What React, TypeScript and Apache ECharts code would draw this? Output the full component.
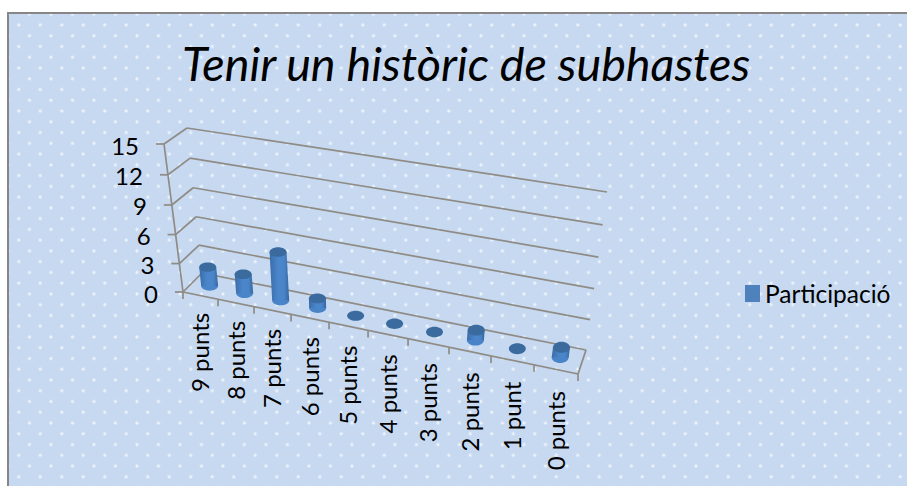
import React, { useEffect, useRef } from "react";
import * as echarts from "echarts";

const titleText = "Tenir un històric de subhastes";
const seriesName = "Participació";
const categories = ["9 punts", "8 punts", "7 punts", "6 punts", "5 punts", "4 punts", "3 punts", "2 punts", "1 punt", "0 punts"];
const values = [2, 2, 5, 1, 0, 0, 0, 1, 0, 1];
const yTicks = [0, 3, 6, 9, 12, 15];

const W = 907;
const H = 486;
const FONT = "Lato, Carlito, Calibri, sans-serif";
const LINE = "#8f8b85";

type P = [number, number];
const mix = (a: P, b: P, t: number): P => [a[0] + (b[0] - a[0]) * t, a[1] + (b[1] - a[1]) * t];
// corners of the 3D box on screen: front / back, left / right, floor / top
const FL0: P = [183, 292], FR0: P = [578, 374], BL0: P = [202, 273], BR0: P = [586, 350];
const FL1: P = [164, 144], FR1: P = [602, 204], BL1: P = [187, 128], BR1: P = [607, 192];

function project(u: number, depth: number, v: number): P {
  const up = u * (0.874 + 0.126 * u);
  const vp = v * (0.95 + 0.05 * v);
  const floor = mix(mix(FL0, FR0, up), mix(BL0, BR0, up), depth);
  const top = mix(mix(FL1, FR1, up), mix(BL1, BR1, up), depth);
  return mix(floor, top, vp);
}
const flat = (pt: number[]) => ({ u: pt[0] / W, v: (H - pt[1]) / H });
const seg = (a: P, b: P) => ({
  type: "line",
  silent: true,
  shape: { x1: a[0], y1: a[1], x2: b[0], y2: b[1] },
  style: { stroke: LINE, lineWidth: 1.7, fill: "none" },
});

export default function App() {
  const ref = useRef<HTMLDivElement>(null);
  useEffect(() => {
    const chart = echarts.init(ref.current!, undefined, { renderer: "svg" });
    const bodyFill = new echarts.graphic.LinearGradient(0, 0, 1, 0, [
      { offset: 0, color: "#3a6da8" },
      { offset: 0.45, color: "#4b86cc" },
      { offset: 0.75, color: "#4a84c8" },
      { offset: 1, color: "#36669e" },
    ]);
    const option: any = {
      animation: false,
      backgroundColor: "transparent",
      title: {
        text: titleText,
        left: 466,
        top: 39,
        padding: 0,
        textAlign: "center",
        textStyle: { fontFamily: FONT, fontStyle: "italic", fontWeight: "normal", fontSize: 46.7, color: "#000" },
      },
      legend: {
        data: [seriesName],
        left: 745,
        top: 281,
        padding: 0,
        icon: "rect",
        itemWidth: 15,
        itemHeight: 17,
        itemGap: 0,
        selectedMode: false,
        textStyle: { fontFamily: FONT, fontSize: 24.5, color: "#000" },
      },
      grid: { left: 0, top: 0, width: W, height: H },
      xAxis: { type: "category", data: categories, show: false },
      yAxis: { type: "value", min: 0, max: 15, interval: 3, show: false },
      series: [
        {
          type: "custom",
          name: "walls",
          silent: true,
          clip: false,
          data: yTicks.map((t) => [0, t]),
          renderItem: (_: any, api: any) => {
            const tick = api.value(1);
            const { v } = flat(api.coord([0, tick]));
            const f = project(0, 0, v);
            const b = project(0, 1, v);
            const r = project(1, 1, v);
            const children: any[] = [seg([f[0] - 8, f[1]], f), seg(f, b), seg(b, r)];
            if (tick === 0) {
              children.push(seg(f, project(1, 0, 0)), seg(project(1, 0, 0), r), seg(f, project(0, 0, 1)));
              children.push(seg(f, [f[0], f[1] + 7]));
            }
            children.push({
              type: "text",
              silent: true,
              x: f[0] - 25,
              y: f[1] + 1,
              style: { text: String(tick), align: "right", verticalAlign: "middle", fontFamily: FONT, fontSize: 24, fill: "#000" },
            });
            return { type: "group", children };
          },
        },
        {
          type: "custom",
          name: "categoryLabels",
          silent: true,
          clip: false,
          data: categories.map((_, i) => [i, 0]),
          renderItem: (_: any, api: any) => {
            const i = api.value(0);
            const { u } = flat(api.coord([i, 0]));
            const stepU = 1 / categories.length;
            const tickPt = project(u + stepU / 2, 0, 0);
            const mid = project(u, 0, 0);
            return {
              type: "group",
              children: [
                seg(tickPt, [tickPt[0], tickPt[1] + 7]),
                {
                  type: "text",
                  silent: true,
                  x: mid[0] - 0.5,
                  y: mid[1] + 17 + 5 * u,
                  rotation: Math.PI / 2,
                  style: { text: categories[i], align: "right", verticalAlign: "middle", fontFamily: FONT, fontSize: 24, fill: "#000" },
                },
              ],
            };
          },
        },
        {
          type: "custom",
          name: seriesName,
          clip: false,
          silent: true,
          itemStyle: { color: "#4f81bd" },
          data: values.map((val, i) => [i, val]),
          renderItem: (_: any, api: any) => {
            const i = api.value(0);
            const val = api.value(1);
            const { u, v } = flat(api.coord([i, val]));
            const a = project(u, 0.5, 0);
            const b = project(u, 0.5, v);
            const rx = 8.5;
            const ry = 4.6 + 1 * u;
            const children: any[] = [];
            if (val > 0) {
              children.push({
                type: "ellipse",
                silent: true,
                shape: { cx: a[0], cy: a[1], rx, ry },
                style: { fill: "#4a84c8" },
              });
              children.push({
                type: "polygon",
                silent: true,
                shape: { points: [[a[0] - rx, a[1]], [a[0] + rx, a[1]], [b[0] + rx, b[1]], [b[0] - rx, b[1]]] },
                style: { fill: bodyFill },
              });
            }
            children.push({
              type: "ellipse",
              silent: true,
              shape: { cx: b[0], cy: b[1], rx, ry },
              style: { fill: "#3b6a9e" },
            });
            return { type: "group", children };
          },
        },
      ],
    };
    chart.setOption(option);
    return () => chart.dispose();
  }, []);

  const dot = "radial-gradient(circle, rgba(255,255,255,0.88) 0, rgba(255,255,255,0.6) 1px, rgba(255,255,255,0) 2.2px)";
  return (
    <div style={{ position: "absolute", left: 0, top: 0, width: W, height: H, overflow: "hidden", background: "#fff" }}>
      <div
        style={{
          position: "absolute",
          left: 7,
          top: 12,
          width: W + 20,
          height: H + 20,
          boxSizing: "border-box",
          border: "2px solid #868686",
          backgroundColor: "#c6d9f1",
          backgroundImage: `${dot}, ${dot}`,
          backgroundSize: "21.5px 21.53px",
          backgroundOrigin: "border-box",
          backgroundPosition: "1px 2.2px, 11.7px 13px",
        }}
      />
      <div ref={ref} style={{ position: "absolute", left: 0, top: 0, width: W, height: H }} />
    </div>
  );
}
